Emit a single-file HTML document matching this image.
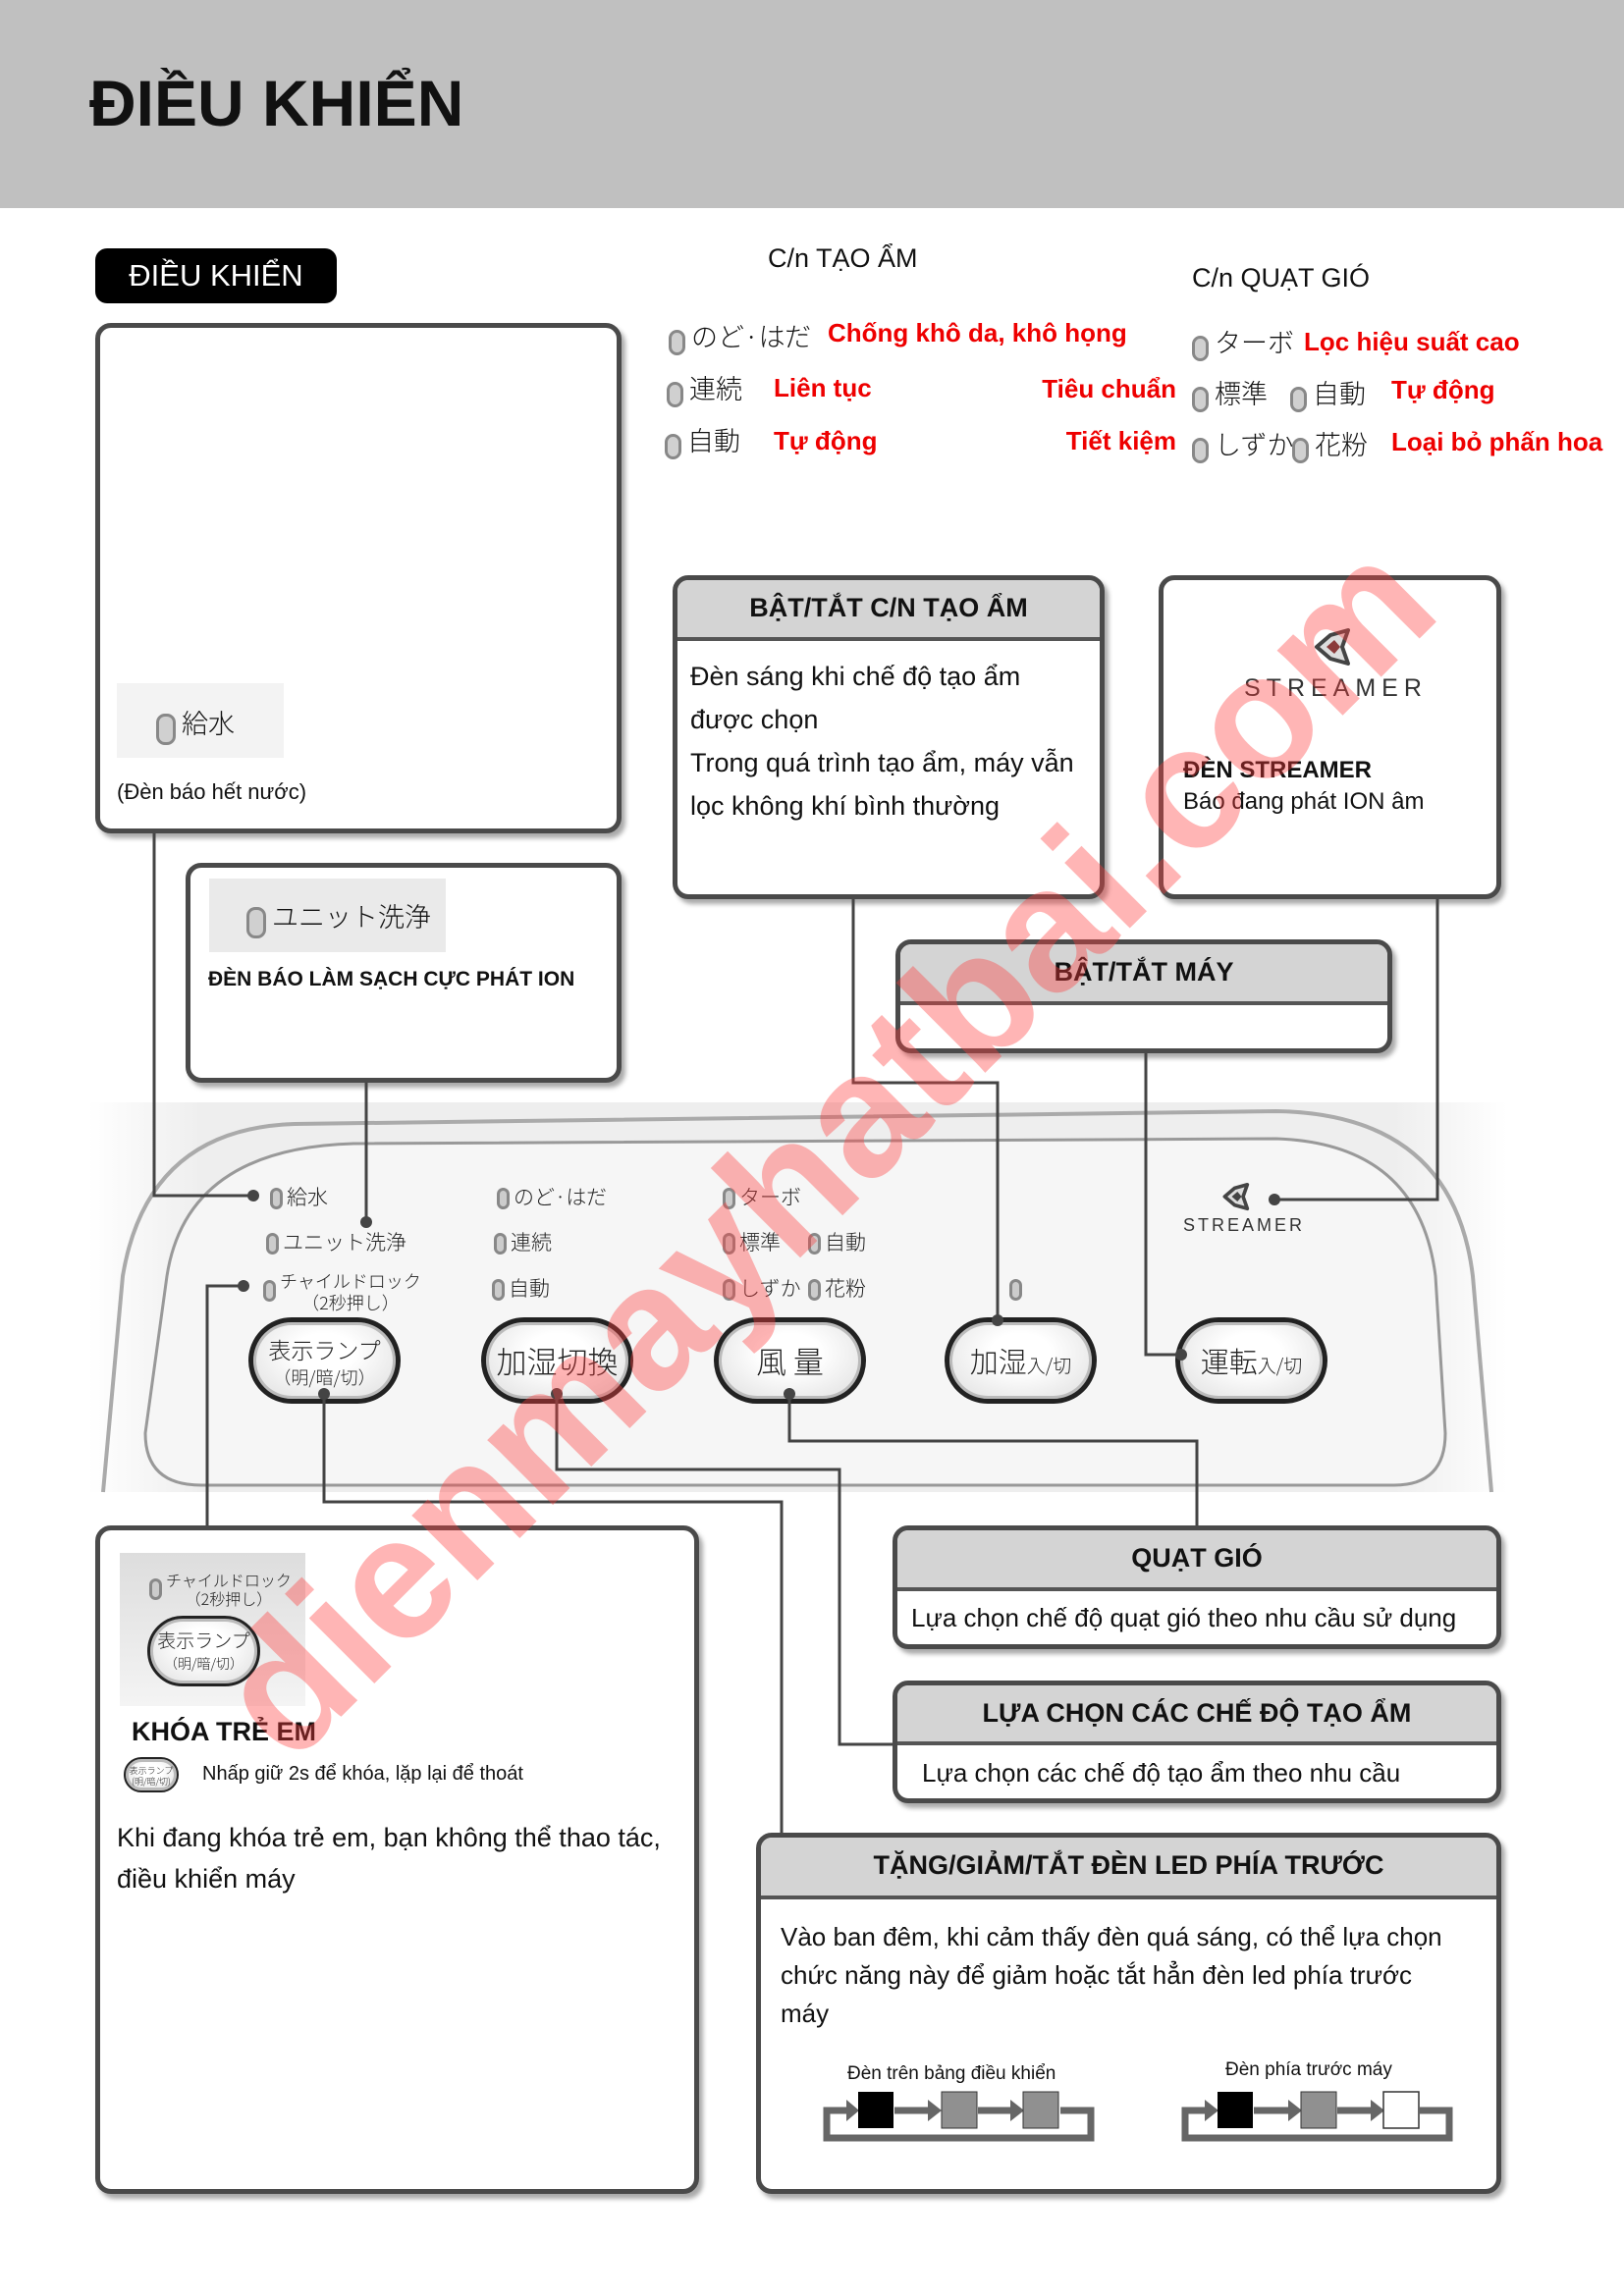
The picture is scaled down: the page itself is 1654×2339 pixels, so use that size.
<!DOCTYPE html>
<html><head><meta charset="utf-8">
<style>
*{margin:0;padding:0;box-sizing:border-box}
body{width:1654px;height:2339px;position:relative;background:#fff;font-family:"Liberation Sans","Noto Sans CJK JP",sans-serif;color:#111;overflow:hidden}
.a{position:absolute;white-space:nowrap}
.box{position:absolute;border:5px solid #4a4a4a;border-radius:16px;background:#fff;box-shadow:4px 5px 5px #aaa;overflow:hidden}
.hd{background:#d4d4d4;border-bottom:4px solid #555;text-align:center;font-size:27px;font-weight:bold}
.led{display:inline-block;width:17px;height:26px;border:3px solid #888;background:#d0d0d0;border-radius:9px;vertical-align:middle;margin-right:6px}
.red{color:#e00;font-size:26px;font-weight:bold}
.jp{font-size:27px;font-family:"Noto Sans CJK JP",sans-serif;font-weight:300}
.btn{position:absolute;width:155px;height:88px;border:5px solid #222;border-radius:44px;background:radial-gradient(ellipse at 50% 40%,#fff 30%,#ddd 100%);box-shadow:inset 0 0 0 3px #bbb;text-align:center;font-family:"Noto Sans CJK JP",sans-serif;font-weight:300;color:#222;overflow:hidden}
.pj{font-family:"Noto Sans CJK JP",sans-serif;font-weight:300;font-size:21px;color:#222}
.pled{display:inline-block;width:13px;height:22px;border:3px solid #888;background:#ccc;border-radius:7px;vertical-align:middle;margin-right:4px}
.t{font-size:27px}
</style></head><body>

<div class="a" style="left:0;top:0;width:1654px;height:212px;background:#c0c0c0"></div>
<div class="a" style="left:91px;top:60px;font-size:66px;font-weight:bold;line-height:90px">ĐIỀU KHIỂN</div>

<div class="a" style="left:97px;top:253px;width:246px;height:56px;background:#000;border-radius:12px;color:#fff;font-size:31px;line-height:56px;text-align:center">ĐIỀU KHIỂN</div>

<div class="a" style="left:782px;top:248px;font-size:27px">C/n TẠO ẨM</div>
<div class="a" style="left:1214px;top:268px;font-size:27px">C/n QUẠT GIÓ</div>

<div class="a" style="left:681px;top:322px"><span class="led"></span><span class="jp">のど·はだ</span></div>
<div class="a red" style="left:843px;top:324px">Chống khô da, khô họng</div>
<div class="a" style="left:679px;top:375px"><span class="led"></span><span class="jp">連続</span></div>
<div class="a red" style="left:788px;top:380px">Liên tục</div>
<div class="a" style="left:677px;top:428px"><span class="led"></span><span class="jp">自動</span></div>
<div class="a red" style="left:788px;top:434px">Tự động</div>

<div class="a" style="left:1214px;top:328px"><span class="led"></span><span class="jp">ターボ</span></div>
<div class="a red" style="left:1328px;top:333px">Lọc hiệu suất cao</div>
<div class="a red" style="left:1048px;top:381px;width:150px;text-align:right">Tiêu chuẩn</div>
<div class="a" style="left:1214px;top:380px"><span class="led"></span><span class="jp">標準</span></div>
<div class="a" style="left:1314px;top:380px"><span class="led"></span><span class="jp">自動</span></div>
<div class="a red" style="left:1417px;top:382px">Tự động</div>
<div class="a red" style="left:1048px;top:434px;width:150px;text-align:right">Tiết kiệm</div>
<div class="a" style="left:1214px;top:432px"><span class="led"></span><span class="jp">しずか</span></div>
<div class="a" style="left:1316px;top:432px"><span class="led"></span><span class="jp">花粉</span></div>
<div class="a red" style="left:1417px;top:435px">Loại bỏ phấn hoa</div>

<div class="box" style="left:97px;top:329px;width:536px;height:520px">
  <div class="a" style="left:17px;top:362px;width:170px;height:76px;background:#f3f3f3;padding:20px 0 0 40px"><span class="led" style="width:20px;height:32px"></span><span class="jp">給水</span></div>
  <div class="a" style="left:17px;top:460px;font-size:22px">(Đèn báo hết nước)</div>
</div>

<div class="box" style="left:189px;top:879px;width:444px;height:224px">
  <div class="a" style="left:19px;top:11px;width:241px;height:75px;background:#eaeaea;padding:18px 0 0 38px"><span class="led" style="width:20px;height:32px"></span><span class="jp">ユニット洗浄</span></div>
  <div class="a" style="left:18px;top:102px;font-size:21px;font-weight:bold">ĐÈN BÁO LÀM SẠCH CỰC PHÁT ION</div>
</div>

<div class="box" style="left:685px;top:586px;width:440px;height:330px">
  <div class="hd" style="height:62px;line-height:56px">BẬT/TẮT C/N TẠO ẨM</div>
  <div class="a t" style="left:13px;top:76px;line-height:44px">Đèn sáng khi chế độ tạo ẩm<br>được chọn<br>Trong quá trình tạo ẩm, máy vẫn<br>lọc không khí bình thường</div>
</div>

<div class="box" style="left:1180px;top:586px;width:349px;height:330px">
  <svg class="a" style="left:150px;top:48px" width="50" height="40" viewBox="0 0 50 40"><path d="M38 3 L20 8 L6 20 L20 32 L38 37 L32 20 Z" fill="#ddd" stroke="#444" stroke-width="4" stroke-linejoin="round"/><path d="M16 20 L24 13 L30 20 L24 27Z" fill="#8b3a3a"/></svg>
  <div class="a" style="left:82px;top:96px;font-size:25px;letter-spacing:6px;color:#333">STREAMER</div>
  <div class="a" style="left:20px;top:180px;font-size:24px;font-weight:bold">ĐÈN STREAMER</div>
  <div class="a" style="left:20px;top:212px;font-size:24px">Báo đang phát ION âm</div>
</div>

<div class="box" style="left:912px;top:957px;width:506px;height:116px">
  <div class="hd" style="height:62px;line-height:56px">BẬT/TẮT MÁY</div>
</div>

<div class="a" style="left:90px;top:1123px;width:1445px;height:397px;background:linear-gradient(90deg,#fff 0%,#eee 8%,#eee 92%,#fff 100%)"></div>
<svg class="a" style="left:0;top:0" width="1654" height="2339">
 <path d="M105 1520 L125 1300 Q150 1150 300 1145 L1300 1132 Q1480 1135 1500 1300 L1519 1520" fill="none" stroke="#aaa" stroke-width="4"/>
 <path d="M148 1460 Q148 1513 205 1513 L1420 1513 Q1472 1513 1472 1460 L1462 1300 Q1445 1165 1300 1160 L360 1165 Q190 1170 170 1300 Z" fill="#f6f6f6" stroke="#999" stroke-width="3"/>
</svg>

<div class="a pj" style="left:275px;top:1204px"><span class="pled"></span>給水</div>
<div class="a pj" style="left:271px;top:1250px"><span class="pled"></span>ユニット洗浄</div>
<div class="a pj" style="left:268px;top:1294px;line-height:22px;font-size:18px"><span class="pled" style="vertical-align:top;margin-top:10px"></span><span style="display:inline-block;text-align:center">チャイルドロック<br>（2秒押し）</span></div>
<div class="a pj" style="left:506px;top:1204px"><span class="pled"></span>のど·はだ</div>
<div class="a pj" style="left:503px;top:1250px"><span class="pled"></span>連続</div>
<div class="a pj" style="left:501px;top:1297px"><span class="pled"></span>自動</div>
<div class="a pj" style="left:736px;top:1204px"><span class="pled"></span>ターボ</div>
<div class="a pj" style="left:736px;top:1250px"><span class="pled"></span>標準</div>
<div class="a pj" style="left:823px;top:1250px"><span class="pled"></span>自動</div>
<div class="a pj" style="left:736px;top:1297px"><span class="pled"></span>しずか</div>
<div class="a pj" style="left:823px;top:1297px"><span class="pled"></span>花粉</div>
<div class="a pj" style="left:1028px;top:1297px"><span class="pled"></span></div>
<svg class="a" style="left:1243px;top:1204px" width="36" height="30" viewBox="0 0 50 40"><path d="M38 3 L20 8 L6 20 L20 32 L38 37 L32 20 Z" fill="#ddd" stroke="#444" stroke-width="5" stroke-linejoin="round"/><path d="M16 20 L24 13 L30 20 L24 27Z" fill="#444"/></svg>
<div class="a" style="left:1205px;top:1238px;font-size:18px;letter-spacing:3px;color:#333">STREAMER</div>

<div class="btn" style="left:253px;top:1342px;font-size:23px;line-height:26px;padding-top:14px">表示ランプ<br><span style="font-size:18px">（明/暗/切）</span></div>
<div class="btn" style="left:490px;top:1342px;font-size:31px;line-height:78px">加湿切換</div>
<div class="btn" style="left:727px;top:1342px;font-size:31px;line-height:78px">風 量</div>
<div class="btn" style="left:962px;top:1342px;font-size:29px;line-height:78px">加湿<span style="font-size:19px">入/切</span></div>
<div class="btn" style="left:1197px;top:1342px;font-size:29px;line-height:78px">運転<span style="font-size:19px">入/切</span></div>

<div class="box" style="left:97px;top:1554px;width:615px;height:681px">
  <div class="a" style="left:20px;top:23px;width:189px;height:156px;background:linear-gradient(#ddd,#f4f4f4)">
    <div class="a pj" style="left:30px;top:18px;font-size:16px;line-height:19px"><span class="pled" style="vertical-align:top;margin-top:8px;background:#ccc"></span><span style="display:inline-block;text-align:center">チャイルドロック<br>（2秒押し）</span></div>
    <div class="btn" style="left:28px;top:64px;width:115px;height:72px;font-size:19px;line-height:22px;padding-top:11px;border-width:3px">表示ランプ<br><span style="font-size:14px">（明/暗/切）</span></div>
  </div>
  <div class="a" style="left:32px;top:190px;font-size:27px;font-weight:bold">KHÓA TRẺ EM</div>
  <div class="btn" style="left:24px;top:231px;width:56px;height:36px;border-width:2px;font-size:9px;line-height:11px;padding-top:6px">表示ランプ<br>(明/暗/切)</div>
  <div class="a" style="left:104px;top:237px;font-size:20px">Nhấp giữ 2s để khóa, lặp lại để thoát</div>
  <div class="a t" style="left:17px;top:292px;line-height:42px">Khi đang khóa trẻ em, bạn không thể thao tác,<br>điều khiển máy</div>
</div>

<div class="box" style="left:909px;top:1554px;width:620px;height:126px">
  <div class="hd" style="height:62px;line-height:56px">QUẠT GIÓ</div>
  <div class="a" style="left:14px;top:74px;font-size:26px">Lựa chọn chế độ quạt gió theo nhu cầu sử dụng</div>
</div>

<div class="box" style="left:909px;top:1712px;width:620px;height:125px">
  <div class="hd" style="height:61px;line-height:56px">LỰA CHỌN CÁC CHẾ ĐỘ TẠO ẨM</div>
  <div class="a" style="left:25px;top:74px;font-size:26px">Lựa chọn các chế độ tạo ẩm theo nhu cầu</div>
</div>

<div class="box" style="left:770px;top:1867px;width:759px;height:368px">
  <div class="hd" style="height:63px;line-height:56px">TẶNG/GIẢM/TẮT ĐÈN LED PHÍA TRƯỚC</div>
  <div class="a" style="left:20px;top:82px;line-height:39px;font-size:26px">Vào ban đêm, khi cảm thấy đèn quá sáng, có thể lựa chọn<br>chức năng này để giảm hoặc tắt hẳn đèn led phía trước<br>máy</div>
  <div class="a" style="left:88px;top:230px;font-size:19px">Đèn trên bảng điều khiển</div>
  <div class="a" style="left:473px;top:226px;font-size:19px">Đèn phía trước máy</div>
</div>
<svg class="a" style="left:0;top:0" width="1654" height="2339">
 <g fill="none" stroke="#666" stroke-width="7">
  <path d="M866 2150 L842 2150 L842 2178 L1111 2178 L1111 2150 L1080 2150"/>
  <path d="M911 2150 L946 2150 M996 2150 L1030 2150"/>
  <path d="M1232 2150 L1207 2150 L1207 2178 L1476 2178 L1476 2150 L1446 2150"/>
  <path d="M1277 2150 L1314 2150 M1362 2150 L1398 2150"/>
 </g>
 <g fill="#666">
  <path d="M862 2139 L875 2150 L862 2161Z"/>
  <path d="M945 2139 L959 2150 L945 2161Z"/>
  <path d="M1029 2139 L1043 2150 L1029 2161Z"/>
  <path d="M1227 2139 L1241 2150 L1227 2161Z"/>
  <path d="M1312 2139 L1326 2150 L1312 2161Z"/>
  <path d="M1396 2139 L1410 2150 L1396 2161Z"/>
 </g>
 <rect x="874" y="2131" width="36" height="37" fill="#000"/>
 <rect x="959" y="2131" width="36" height="37" fill="#909090" stroke="#333" stroke-width="1"/>
 <rect x="1042" y="2131" width="36" height="37" fill="#909090" stroke="#333" stroke-width="1"/>
 <rect x="1240" y="2131" width="36" height="37" fill="#000"/>
 <rect x="1325" y="2131" width="36" height="37" fill="#909090" stroke="#333" stroke-width="1"/>
 <rect x="1409" y="2131" width="36" height="37" fill="#fff" stroke="#333" stroke-width="1.5"/>

 <g fill="none" stroke="#444" stroke-width="3">
  <path d="M157 849 L157 1218 L258 1218"/>
  <path d="M373 1103 L373 1245"/>
  <path d="M248 1310 L211 1310 L211 1554"/>
  <path d="M330 1420 L330 1530 L796 1530 L796 1867"/>
  <path d="M567 1420 L567 1497 L855 1497 L855 1777 L909 1777"/>
  <path d="M804 1420 L804 1468 L1219 1468 L1219 1554"/>
  <path d="M869 916 L869 1103 L1016 1103 L1016 1345"/>
  <path d="M1167 1073 L1167 1380 L1203 1380"/>
  <path d="M1298 1222 L1464 1222 L1464 916"/>
 </g>
 <g fill="#444">
  <circle cx="258" cy="1218" r="6"/><circle cx="373" cy="1245" r="6"/>
  <circle cx="248" cy="1310" r="6"/><circle cx="330" cy="1420" r="6"/>
  <circle cx="567" cy="1420" r="6"/><circle cx="804" cy="1420" r="6"/>
  <circle cx="1016" cy="1345" r="6"/><circle cx="1203" cy="1380" r="6"/>
  <circle cx="1298" cy="1222" r="6"/>
 </g>
</svg>

<div class="a" style="left:840px;top:1170px;transform:translate(-50%,-50%) rotate(-45deg);font-size:178px;font-weight:bold;color:rgba(255,60,60,0.38);line-height:1">dienmayhatbai.com</div>
</body></html>
